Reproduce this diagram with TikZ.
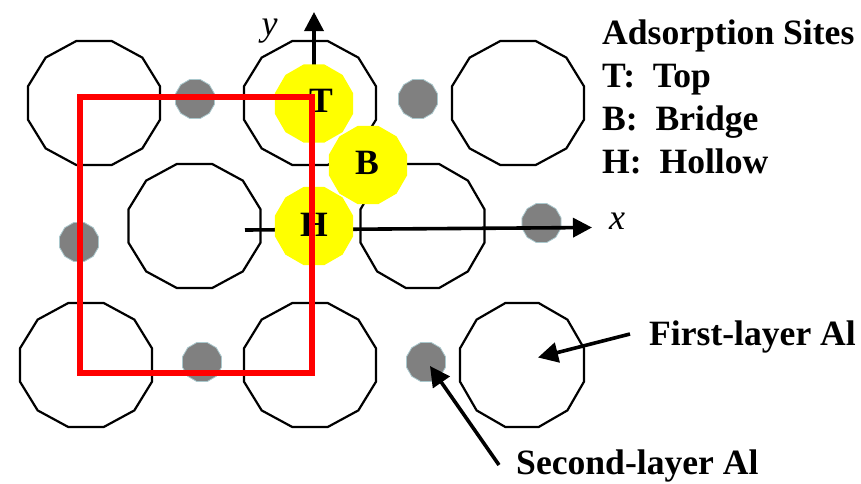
\documentclass[tikz,border=0pt]{standalone}
\usepackage{fontspec}
\setmainfont{Liberation Serif}
\usetikzlibrary{positioning,arrows.meta,shapes.geometric}
\definecolor{ink}{RGB}{0,0,0}
\definecolor{siteyellow}{RGB}{255,255,0}
\definecolor{cellred}{RGB}{255,0,0}
\definecolor{lowgray}{RGB}{128,128,128}
\definecolor{lowedge}{RGB}{170,200,205}
\tikzset{
  topal/.style={regular polygon, regular polygon sides=12, draw=ink, fill=white,
    minimum size=128.4pt, inner sep=0pt, outer sep=0pt, line width=2.2pt},
  widetopal/.style={topal, xscale=1.065},
  lowal/.style={regular polygon, regular polygon sides=12, draw=lowedge, fill=lowgray,
    minimum size=40.4pt, inner sep=0pt, outer sep=0pt, line width=0.8pt},
  site/.style={regular polygon, regular polygon sides=12, fill=siteyellow,
    minimum size=80.8pt, inner sep=0pt, outer sep=0pt},
  sitelabel/.style={font=\bfseries\fontsize{35.6}{38}\selectfont, text=ink, inner sep=0pt, anchor=base},
  legend/.style={font=\bfseries\fontsize{35.6}{38}\selectfont, text=ink, inner sep=0pt, anchor=base west},
  axislabel/.style={font=\itshape\fontsize{36}{38}\selectfont, text=ink, inner sep=0pt, anchor=base},
  axis/.style={-{Triangle[length=19pt,width=19pt]}, line width=3.6pt, draw=ink},
  pointer/.style={-{Triangle[length=20pt,width=20pt]}, line width=3.6pt, draw=ink},
  cellbox/.style={draw=cellred, line width=6pt, minimum width=232pt, minimum height=276pt,
    inner sep=0pt, outer sep=0pt},
}
\begin{document}
\begin{tikzpicture}[x=1pt, y=-1pt]
  \useasboundingbox (0,0) rectangle (861,483);
  % first layer
  \node[widetopal] (a1) at (94,103) {};
  \node[widetopal] (a2) at (310,103) {};
  \node[widetopal] (a3) at (518,103) {};
  \node[widetopal] (a4) at (194.5,226) {};
  \node[topal] (a5) at (422.5,226) {};
  \node[widetopal] (a6) at (86,365) {};
  \node[widetopal] (a7) at (310,365) {};
  \node[topal] (a8) at (522,365) {};
  % second layer
  \node[lowal] (g1) at (195,99) {};
  \node[lowal] (g2) at (418,99) {};
  \node[lowal] (g3) at (79,242) {};
  \node[lowal] (g4) at (541.5,223) {};
  \node[lowal] (g5) at (202,362) {};
  \node[lowal] (g6) at (426,362) {};
  % axes
  \coordinate (xfrom) at (245,230);
  \coordinate (xto) at (592,227.5);
  \coordinate (yfrom) at (314,70);
  \coordinate (yto) at (314,12);
  \draw[axis] (xfrom) -- (xto);
  \draw[axis] (yfrom) -- (yto);
  \node[axislabel] (ylab) at (269.5,35) {y};
  \node[axislabel] (xlab) at (617,229) {x};
  % sites
  \node[site] (sT) at (314,103.5) {};
  \node[site] (sB) at (368,165) {};
  \node[site] (sH) at (314,226) {};
  \node[sitelabel] (lT) at (321,112) {T};
  \node[sitelabel] (lB) at (367,174) {B};
  \node[sitelabel] (lH) at (314,236) {H};
  \node[cellbox] (cell) at (196,234.5) {};
  % legend
  \node[legend] (l0) at (602,44) {Adsorption Sites};
  \node[legend] (l1) at (602,87) {T:\ \ Top};
  \node[legend] (l2) at (602,130) {B:\ \ Bridge};
  \node[legend] (l3) at (602,173) {H:\ \ Hollow};
  \node[legend] (first) at (649,345) {First-layer Al};
  \node[legend] (second) at (516,474) {Second-layer Al};
  \coordinate (firstfrom) at (630,334);
  \coordinate (firstto) at (538,357.5);
  \coordinate (secondfrom) at (499,465);
  \coordinate (secondto) at (430,366);
  \draw[pointer] (firstfrom) -- (firstto);
  \draw[pointer] (secondfrom) -- (secondto);
\end{tikzpicture}
\end{document}
